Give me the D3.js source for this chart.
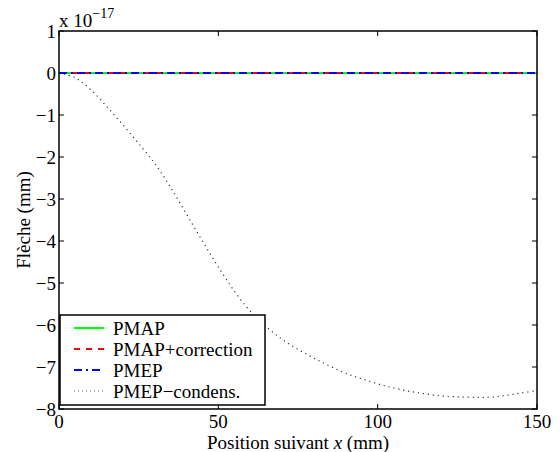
<!DOCTYPE html>
<html><head><meta charset="utf-8">
<script src="https://cdn.jsdelivr.net/npm/d3@7"></script>
<style>
body{margin:0;background:#fff}
svg{display:block;font-family:"Liberation Serif","Times New Roman",serif}
svg text, svg tspan{font-family:"Liberation Serif","Times New Roman",serif !important}
</style>
</head><body>
<script>
const xFlat = [0, 150];
const pmap = [0, 0];
const pmapCorr = [0, 0];
const pmep = [0, 0];
const xCond = [0,5,10,15,20,25,30,35,40,45,50,55,60,65,70,75,80,85,90,95,100,105,110,115,120,125,130,135,140,145,150];
const pmepCond = [0,-0.11,-0.40,-0.80,-1.23,-1.68,-2.15,-2.72,-3.36,-4.00,-4.62,-5.19,-5.67,-6.04,-6.34,-6.58,-6.79,-6.98,-7.15,-7.28,-7.40,-7.50,-7.58,-7.64,-7.69,-7.71,-7.72,-7.72,-7.68,-7.62,-7.56];
const xTicks = [0,50,100,150];
const yTicks = [1,0,-1,-2,-3,-4,-5,-6,-7,-8];
const seriesNames = ["PMAP","PMAP+correction","PMEP","PMEP\u2212condens."];

const W=560,H=452;
const m={l:59,r:23,t:31,b:43};
const FF="Times New Roman";
const FS=19;
const svg=d3.select("body").append("svg").attr("width",W).attr("height",H);
const x=d3.scaleLinear().domain([0,150]).range([m.l,W-m.r]);
const y=d3.scaleLinear().domain([-8,1]).range([H-m.b,m.t]);
const fmt=d=>d<0?"\u2212"+Math.abs(d):String(d);
const txt=(sel)=>sel.append("text").style("font-family",FF).style("font-size",FS+"px").attr("fill","#000");

const g=svg.append("g");
const tl=5;
xTicks.forEach(t=>{
  g.append("line").attr("x1",x(t)).attr("x2",x(t)).attr("y1",y(-8)).attr("y2",y(-8)-tl).attr("stroke","#000");
  g.append("line").attr("x1",x(t)).attr("x2",x(t)).attr("y1",y(1)).attr("y2",y(1)+tl).attr("stroke","#000");
  txt(g).attr("x",x(t)).attr("y",y(-8)+19).attr("text-anchor","middle").text(fmt(t));
});
yTicks.forEach(t=>{
  g.append("line").attr("x1",x(0)).attr("x2",x(0)+tl).attr("y1",y(t)).attr("y2",y(t)).attr("stroke","#000");
  g.append("line").attr("x1",x(150)).attr("x2",x(150)-tl).attr("y1",y(t)).attr("y2",y(t)).attr("stroke","#000");
  txt(g).attr("x",x(0)-3).attr("y",y(t)+7).attr("text-anchor","end").text(fmt(t));
});

const line=(xs,ys,c)=>d3.line().curve(c||d3.curveLinear).x((d,i)=>x(xs[i])).y(d=>y(d))(ys);
svg.append("path").attr("d",line(xCond,pmepCond,d3.curveCatmullRom)).attr("fill","none").attr("stroke","#333").attr("stroke-width",1.2).attr("stroke-dasharray","1.2,3.8");
svg.append("path").attr("d",line(xFlat,pmap)).attr("fill","none").attr("stroke","#00ff00").attr("stroke-width",2);
svg.append("path").attr("d",line(xFlat,pmapCorr)).attr("fill","none").attr("stroke","#ff0000").attr("stroke-width",2).attr("stroke-dasharray","6,6");
svg.append("path").attr("d",line(xFlat,pmep)).attr("fill","none").attr("stroke","#0000ff").attr("stroke-width",2).attr("stroke-dasharray","8,4,2,4");

svg.append("rect").attr("x",x(0)).attr("y",y(1)).attr("width",x(150)-x(0)).attr("height",y(-8)-y(1)).attr("fill","none").attr("stroke","#000").attr("stroke-width",1.5);

const ex=txt(svg).attr("x",x(0)).attr("y",y(1)-4);
ex.append("tspan").text("x 10");
ex.append("tspan").attr("dy",-9).style("font-size","14px").text("\u221217");

const xl=txt(svg).attr("x",(x(0)+x(150))/2).attr("y",H-3).attr("text-anchor","middle");
xl.append("tspan").text("Position suivant ");
xl.append("tspan").style("font-style","italic").text("x");
xl.append("tspan").text(" (mm)");
txt(svg).attr("transform",`translate(30,${(y(1)+y(-8))/2}) rotate(-90)`).attr("text-anchor","middle").text("Flèche (mm)");

const lg=svg.append("g");
lg.append("rect").attr("x",60).attr("y",315).attr("width",205).attr("height",90).attr("fill","#fff").attr("stroke","#000").attr("stroke-width",1.5);
const styles=[{c:"#00ff00",d:null,w:2},{c:"#ff0000",d:"6,6",w:2},{c:"#0000ff",d:"8,4,2,4",w:2},{c:"#555",d:"1,3",w:1}];
seriesNames.forEach((n,i)=>{
  const yy=328+i*21;
  const l=lg.append("line").attr("x1",74).attr("x2",104).attr("y1",yy).attr("y2",yy).attr("stroke",styles[i].c).attr("stroke-width",styles[i].w);
  if(styles[i].d) l.attr("stroke-dasharray",styles[i].d);
  txt(lg).attr("x",113).attr("y",yy+7).text(n);
});
</script>
</body></html>
